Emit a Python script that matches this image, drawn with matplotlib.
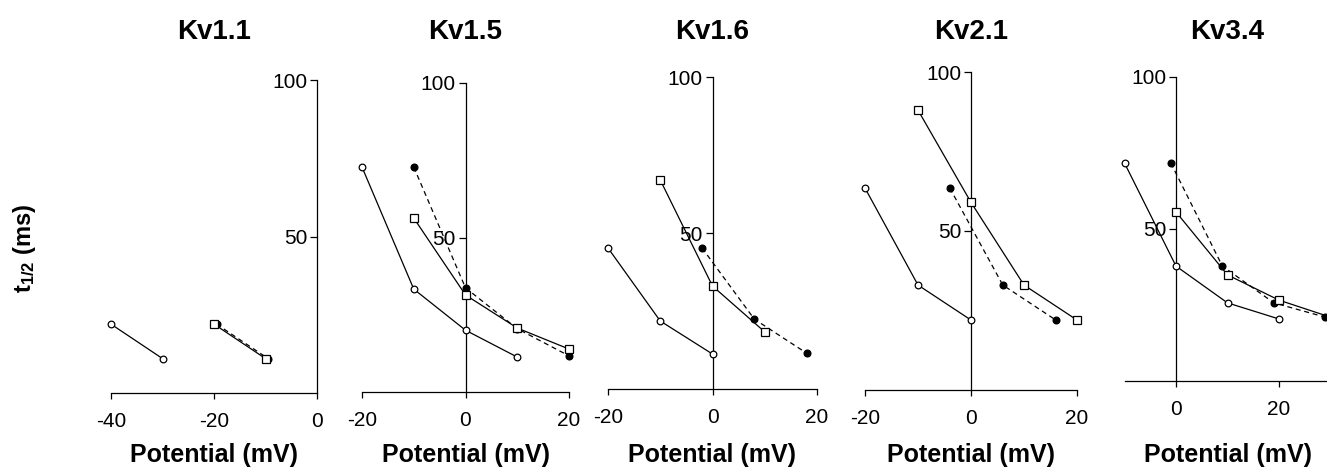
import matplotlib
matplotlib.use("Agg")
import matplotlib.pyplot as plt

plt.rcParams['font.family'] = ['Liberation Sans', 'DejaVu Sans']
plt.rcParams['mathtext.fontset'] = 'custom'
plt.rcParams['mathtext.rm'] = 'Liberation Sans'
plt.rcParams['mathtext.bf'] = 'Liberation Sans:bold'
plt.rcParams['axes.unicode_minus'] = False

channels = ["Kv1.1", "Kv1.5", "Kv1.6", "Kv2.1", "Kv3.4"]

# half-time (ms) vs potential (mV); open circles, open squares, filled circles
kv11_open_x = [-40, -30]
kv11_open_y = [22, 11]
kv11_sq_x = [-20, -10]
kv11_sq_y = [22, 11]
kv11_fill_x = [-19.5, -9.5]
kv11_fill_y = [22, 11]

kv15_open_x = [-20, -10, 0, 10]
kv15_open_y = [72.8, 33.3, 20, 11.3]
kv15_sq_x = [-10, 0, 10, 20]
kv15_sq_y = [56.3, 31.4, 20.7, 13.9]
kv15_fill_x = [-10, 0, 10, 20]
kv15_fill_y = [72.8, 33.7, 20.5, 11.7]

kv16_open_x = [-20, -10, 0]
kv16_open_y = [45.2, 21.8, 11.2]
kv16_sq_x = [-10, 0, 10]
kv16_sq_y = [67, 33, 18.3]
kv16_fill_x = [-2, 8, 18]
kv16_fill_y = [45.2, 22.4, 11.5]

kv21_open_x = [-20, -10, 0]
kv21_open_y = [63.5, 33, 22]
kv21_sq_x = [-10, 0, 10, 20]
kv21_sq_y = [88, 59, 33, 22]
kv21_fill_x = [-4, 6, 16]
kv21_fill_y = [63.5, 33, 22]

kv34_open_x = [-10, 0, 10, 20]
kv34_open_y = [71.7, 37.8, 25.7, 20.4]
kv34_sq_x = [0, 10, 20, 30]
kv34_sq_y = [55.6, 34.9, 26.6, 21]
kv34_fill_x = [-1, 9, 19, 29]
kv34_fill_y = [71.7, 37.8, 25.7, 21]

series = [
    (kv11_open_x, kv11_open_y, kv11_sq_x, kv11_sq_y, kv11_fill_x, kv11_fill_y),
    (kv15_open_x, kv15_open_y, kv15_sq_x, kv15_sq_y, kv15_fill_x, kv15_fill_y),
    (kv16_open_x, kv16_open_y, kv16_sq_x, kv16_sq_y, kv16_fill_x, kv16_fill_y),
    (kv21_open_x, kv21_open_y, kv21_sq_x, kv21_sq_y, kv21_fill_x, kv21_fill_y),
    (kv34_open_x, kv34_open_y, kv34_sq_x, kv34_sq_y, kv34_fill_x, kv34_fill_y),
]

x_ranges = [(-40, 0), (-20, 20), (-20, 20), (-20, 20), (-10, 30)]
x_ticks = [[-40, -20, 0], [-20, 0, 20], [-20, 0, 20], [-20, 0, 20], [0, 20]]

# panel boxes in pixels: left, right, y of 0, y of 100
W, H = 1327, 468
boxes = [(111, 317, 393, 80), (362, 569, 392, 83), (608, 817, 389, 77),
         (865, 1077, 390, 72), (1124.5, 1330.5, 381, 77)]

fig = plt.figure(figsize=(W / 100, H / 100), dpi=100)

for name, data, xr, xt, box in zip(channels, series, x_ranges, x_ticks, boxes):
    l, r, y0, y1 = box
    ax = fig.add_axes([l / W, 1 - y0 / H, (r - l) / W, (y0 - y1) / H])
    ax.patch.set_alpha(0)
    ax.set_xlim(*xr)
    ax.set_ylim(0, 100)

    ox, oy, sx, sy, fx, fy = data
    ax.plot(fx, fy, color='black', lw=0.9, ls=(0, (4, 3)), marker='o', ms=4.8,
            mfc='black', mec='black', clip_on=False, zorder=3)
    ax.plot(sx, sy, color='black', lw=0.9, marker='s', ms=5.2,
            mfc='white', mec='black', mew=0.9, clip_on=False, zorder=4)
    ax.plot(ox, oy, color='black', lw=0.9, marker='o', ms=4.8,
            mfc='white', mec='black', mew=0.9, clip_on=False, zorder=4)

    for s in ['top', 'right']:
        ax.spines[s].set_visible(False)
    ax.spines['left'].set_position(('data', 0))
    ax.spines['left'].set_linewidth(0.9)
    ax.spines['bottom'].set_linewidth(0.9)

    ax.set_xticks(xt)
    ax.set_xticklabels([str(v) for v in xt])
    ax.set_yticks([50, 100])
    ax.set_yticklabels(['50', '100'])
    ax.tick_params(axis='x', direction='out', length=4, width=0.9, pad=10, labelsize=15)
    ax.tick_params(axis='y', direction='out', length=5, width=0.9, pad=2, labelsize=15)

    cx = (l + r) / 2
    fig.text(cx / W, 1 - 32 / H, name, ha='center', va='center',
             fontsize=20, fontweight='bold')
    fig.text(cx / W, 1 - 455 / H, 'Potential (mV)', ha='center', va='center',
             fontsize=18, fontweight='bold')

fig.text(25 / W, 1 - 248 / H, r'$\mathbf{t_{1/2}}$ (ms)', rotation=90,
         ha='center', va='center', fontsize=17, fontweight='bold')

fig.savefig('out.png', dpi=100)
